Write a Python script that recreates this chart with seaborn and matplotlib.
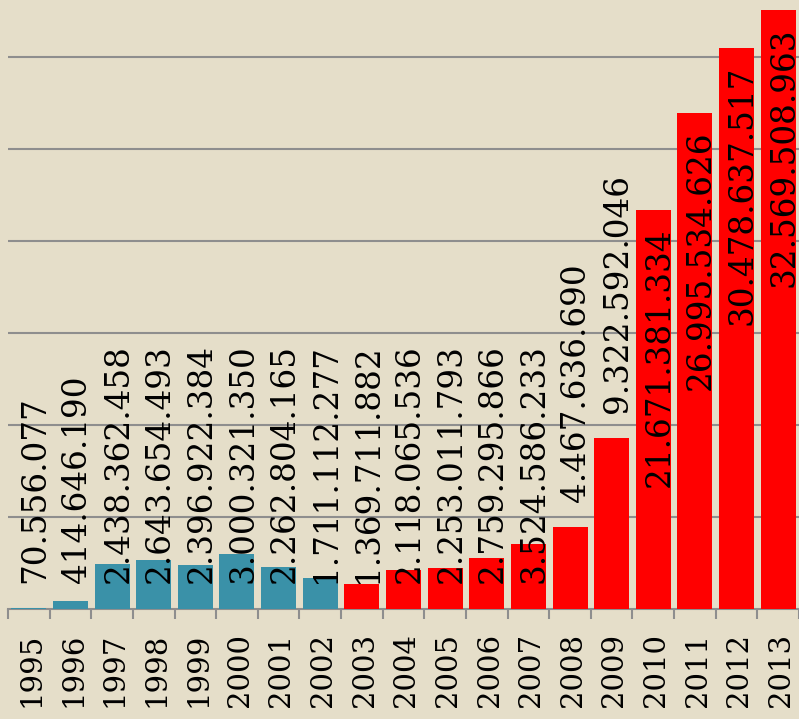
import matplotlib
matplotlib.use("Agg")
import matplotlib.pyplot as plt
import matplotlib.transforms as mtransforms
import numpy as np
import pandas as pd
import seaborn as sns

# Yearly totals (raw units), split into two periods
years = ["1995", "1996", "1997", "1998", "1999", "2000", "2001", "2002",
         "2003", "2004", "2005", "2006", "2007", "2008", "2009", "2010",
         "2011", "2012", "2013"]
values = [70556077, 414646190, 2438362458, 2643654493, 2396922384,
          3000321350, 2262804165, 1711112277, 1369711882, 2118065536,
          2253011793, 2759295866, 3524586233, 4467636690, 9322592046,
          21671381334, 26995534626, 30478637517, 32569508963]
periods = ["1995-2002"] * 8 + ["2003-2013"] * 11
period_colors = {"1995-2002": "#3A91A8", "2003-2013": "#FF0000"}

BG = "#E5DEC9"
GRID = "#8E8E8E"

plt.rcParams["font.family"] = ["DejaVu Serif", "DejaVu Sans"]

df = pd.DataFrame({"year": years, "value": values, "period": periods})
df["billions"] = df["value"] / 1e9

fig = plt.figure(figsize=(7.99, 7.19), dpi=100, facecolor=BG)
ax = fig.add_axes([8 / 799, 110 / 719, 1 - 8 / 799, 609 / 719])
ax.set_facecolor(BG)

sns.barplot(data=df, x="year", y="billions", hue="period",
            palette=period_colors, dodge=False, width=0.84,
            saturation=1, legend=False, ax=ax, zorder=3)

ax.set_xlim(-0.5, len(years) - 0.5)
ax.set_ylim(0, 609 / 18.39)

# horizontal gridlines every 5 billion, no y labels
ax.set_yticks(np.arange(5, 31, 5))
ax.yaxis.grid(True, color=GRID, linewidth=1.5)
ax.set_axisbelow(True)
ax.tick_params(axis="y", left=False, labelleft=False)
ax.set_xlabel("")
ax.set_ylabel("")

for side in ("top", "right", "left"):
    ax.spines[side].set_visible(False)
ax.spines["bottom"].set_color(GRID)
ax.spines["bottom"].set_linewidth(1.5)

# category boundary ticks, labels at bar centres
ax.set_xticks(np.arange(-0.5, len(years), 1), minor=True)
ax.tick_params(axis="x", which="minor", length=7.5, width=1.5,
               color=GRID, direction="out")
ax.tick_params(axis="x", which="major", length=0, pad=17,
               labelsize=21, labelcolor="black")
plt.setp(ax.get_xticklabels(), rotation=90, ha="right", va="center",
         rotation_mode="anchor")
nudge = mtransforms.ScaledTranslation(2 / 72, 0, fig.dpi_scale_trans)
for tick in ax.xaxis.get_major_ticks():
    tick.label1.set_transform(tick.label1.get_transform() + nudge)

# value labels with dots as thousands separators
for i, v in enumerate(values):
    text = f"{v:,}".replace(",", ".")
    b = v / 1e9
    if b > 15:
        y, dy, ha = b, -12.5, "right"
    elif b > 4:
        y, dy, ha = b, 18.0, "left"
    else:
        y, dy, ha = 0, 18.7, "left"
    ax.annotate(text, xy=(i, y), xytext=(4.5, dy),
                textcoords="offset points", rotation=90,
                rotation_mode="anchor", ha=ha, va="center",
                fontsize=23.5, color="black", zorder=5)

fig.savefig("out.png", dpi=100, facecolor=BG)
